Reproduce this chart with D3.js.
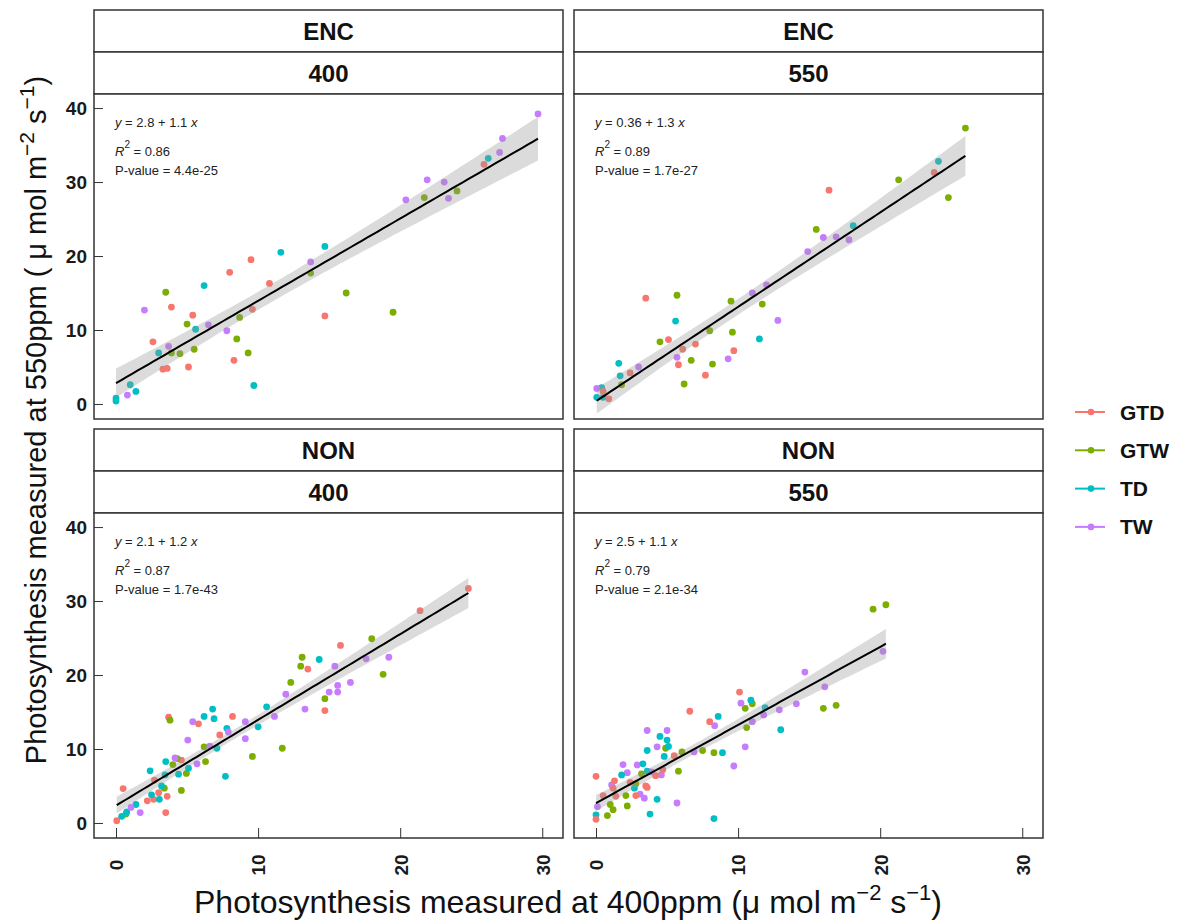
<!DOCTYPE html>
<html>
<head>
<meta charset="utf-8">
<script src="https://cdn.jsdelivr.net/npm/d3@7"></script>
<style>
  body { margin: 0; background: #fff; }
  text { font-family: "Liberation Sans", Arial, sans-serif; }
</style>
</head>
<body>
<div id="chart"></div>
<script>
// groups + colours (ggplot default hue palette)
var groups = ["GTD", "GTW", "TD", "TW"];
var colors = ["#F8766D", "#7CAE00", "#00BFC4", "#C77CFF"];

// facet labels
var treatments = ["ENC", "ENC", "NON", "NON"];
var co2Levels = ["400", "550", "400", "550"];

// fit annotations as printed in the picture
var eqLabels = [["2.8", "1.1"], ["0.36", "1.3"], ["2.1", "1.2"], ["2.5", "1.1"]];
var r2Labels = ["0.86", "0.89", "0.87", "0.79"];
var pLabels = ["4.4e-25", "1.7e-27", "1.7e-43", "2.1e-34"];

var xTicks = [0, 10, 20, 30];
var yTicks = [0, 10, 20, 30, 40];

// points: [x (400ppm), y (550ppm), group]
var enc400 = [
  [29.7,39.2,"TW"],[27.2,35.9,"TW"],[27.0,34.0,"TW"],[21.9,30.3,"TW"],[23.1,30.0,"TW"],[20.4,27.6,"TW"],[23.4,27.8,"TW"],
  [13.7,19.2,"TW"],[2.0,12.7,"TW"],[6.5,10.7,"TW"],[7.8,9.9,"TW"],[3.7,7.8,"TW"],[0.8,1.2,"TW"],
  [26.2,33.2,"TD"],[14.7,21.3,"TD"],[11.6,20.5,"TD"],[6.2,16.0,"TD"],[5.6,10.1,"TD"],[3.0,6.9,"TD"],[9.7,2.5,"TD"],
  [1.0,2.6,"TD"],[1.4,1.7,"TD"],[0.0,0.8,"TD"],[0.0,0.4,"TD"],
  [21.7,27.9,"GTW"],[24.0,28.8,"GTW"],[13.7,17.7,"GTW"],[16.2,15.0,"GTW"],[3.5,15.1,"GTW"],[19.5,12.4,"GTW"],[8.7,11.7,"GTW"],
  [5.0,10.8,"GTW"],[8.5,8.8,"GTW"],[3.9,6.9,"GTW"],[4.5,6.8,"GTW"],[5.5,7.4,"GTW"],[9.3,6.9,"GTW"],
  [25.9,32.4,"GTD"],[9.5,19.5,"GTD"],[8.0,17.8,"GTD"],[10.8,16.3,"GTD"],[3.9,13.1,"GTD"],[14.7,11.9,"GTD"],[9.6,12.8,"GTD"],
  [5.4,12.0,"GTD"],[2.6,8.4,"GTD"],[8.3,5.9,"GTD"],[5.1,5.0,"GTD"],[3.3,4.7,"GTD"],[3.6,4.8,"GTD"]
];
var enc550 = [
  [26.0,37.3,"GTW"],[21.3,30.3,"GTW"],[24.8,27.9,"GTW"],[15.5,23.6,"GTW"],[5.7,14.7,"GTW"],[9.5,13.9,"GTW"],[11.7,13.5,"GTW"],
  [8.0,9.9,"GTW"],[9.6,9.7,"GTW"],[4.5,8.4,"GTW"],[6.7,5.9,"GTW"],[8.2,5.4,"GTW"],[6.2,2.7,"GTW"],[1.8,2.6,"GTW"],
  [24.1,32.8,"TD"],[18.1,24.1,"TD"],[5.6,11.2,"TD"],[11.5,8.8,"TD"],[1.6,5.5,"TD"],[1.7,3.8,"TD"],[0.4,2.2,"TD"],
  [0.05,0.9,"TD"],[0.5,0.9,"TD"],
  [23.8,31.3,"GTD"],[16.4,28.9,"GTD"],[3.5,14.3,"GTD"],[5.1,8.7,"GTD"],[7.0,8.1,"GTD"],[9.7,7.2,"GTD"],[6.1,7.4,"GTD"],
  [5.8,5.3,"GTD"],[7.7,3.9,"GTD"],[2.4,4.2,"GTD"],[0.5,1.7,"GTD"],[0.9,0.7,"GTD"],
  [17.8,22.2,"TW"],[16.0,22.5,"TW"],[16.9,22.6,"TW"],[14.9,20.6,"TW"],[12.8,11.3,"TW"],[5.7,6.3,"TW"],[9.3,6.1,"TW"],
  [3.0,5.0,"TW"],[0.05,2.1,"TW"],[11.0,15.0,"TW"],[12.0,16.1,"TW"]
];
var non400 = [
  [24.8,31.7,"GTD"],[21.4,28.7,"GTD"],[15.8,24.0,"GTD"],[13.5,20.8,"GTD"],[14.7,15.2,"GTD"],[8.2,14.4,"GTD"],[5.8,13.4,"GTD"],
  [3.7,14.3,"GTD"],[7.3,11.9,"GTD"],[4.6,8.5,"GTD"],[2.7,5.8,"GTD"],[0.5,4.65,"GTD"],[3.0,4.1,"GTD"],[3.6,3.6,"GTD"],
  [2.2,3.0,"GTD"],[2.65,3.2,"GTD"],[3.5,1.4,"GTD"],[0.05,0.3,"GTD"],
  [18.0,24.9,"GTW"],[13.1,22.4,"GTW"],[13.0,21.2,"GTW"],[18.8,20.1,"GTW"],[12.3,19.0,"GTW"],[14.7,16.8,"GTW"],[3.8,13.9,"GTW"],
  [6.2,10.3,"GTW"],[11.7,10.1,"GTW"],[9.6,9.0,"GTW"],[6.3,8.3,"GTW"],[4.95,6.7,"GTW"],[4.3,8.7,"GTW"],[4.0,7.9,"GTW"],
  [4.6,4.4,"GTW"],[3.4,4.7,"GTW"],[0.7,1.2,"GTW"],
  [14.3,22.1,"TD"],[10.6,15.7,"TD"],[10.0,13.0,"TD"],[6.8,15.4,"TD"],[6.9,14.1,"TD"],[6.2,14.4,"TD"],[7.8,12.8,"TD"],
  [7.1,10.1,"TD"],[5.1,7.4,"TD"],[3.5,8.3,"TD"],[4.4,6.6,"TD"],[3.45,6.5,"TD"],[7.7,6.3,"TD"],[2.4,7.05,"TD"],
  [3.2,5.0,"TD"],[2.5,3.8,"TD"],[3.05,3.2,"TD"],[1.4,2.5,"TD"],[0.75,1.5,"TD"],[0.4,0.9,"TD"],
  [19.2,22.4,"TW"],[15.4,21.2,"TW"],[17.6,22.2,"TW"],[15.6,18.6,"TW"],[16.5,19.0,"TW"],[15.0,17.7,"TW"],[15.6,17.7,"TW"],
  [11.95,17.4,"TW"],[13.3,15.4,"TW"],[11.15,14.4,"TW"],[9.1,13.7,"TW"],[9.1,11.4,"TW"],[5.4,13.7,"TW"],[7.9,12.3,"TW"],
  [5.05,11.2,"TW"],[6.6,10.4,"TW"],[5.7,8.0,"TW"],[4.15,8.8,"TW"],[1.7,1.4,"TW"],[1.05,2.1,"TW"]
];
var non550 = [
  [20.4,29.5,"GTW"],[19.5,28.9,"GTW"],[16.0,15.5,"GTW"],[16.9,15.9,"GTW"],[11.0,16.1,"GTW"],[10.5,15.5,"GTW"],[10.6,12.9,"GTW"],
  [8.3,9.5,"GTW"],[7.5,9.8,"GTW"],[6.05,9.6,"GTW"],[4.9,10.1,"GTW"],[5.8,7.0,"GTW"],[3.2,6.65,"GTW"],[2.8,5.3,"GTW"],
  [2.1,3.7,"GTW"],[1.0,2.5,"GTW"],[1.2,1.8,"GTW"],[2.2,2.3,"GTW"],[0.8,1.0,"GTW"],
  [20.2,23.2,"TW"],[14.7,20.4,"TW"],[16.1,18.4,"TW"],[14.1,16.1,"TW"],[10.2,16.2,"TW"],[12.9,15.3,"TW"],[11.8,14.6,"TW"],
  [11.0,13.7,"TW"],[8.35,13.15,"TW"],[10.5,10.3,"TW"],[6.9,9.6,"TW"],[9.7,7.7,"TW"],[3.6,12.5,"TW"],[5.0,12.5,"TW"],
  [4.3,10.3,"TW"],[1.9,7.9,"TW"],[2.9,7.85,"TW"],[2.2,6.8,"TW"],[3.9,6.9,"TW"],[4.6,6.5,"TW"],[1.1,5.15,"TW"],
  [3.1,3.9,"TW"],[3.4,3.35,"TW"],[5.7,2.7,"TW"],[0.1,2.2,"TW"],
  [10.9,16.6,"TD"],[11.9,15.6,"TD"],[13.0,12.6,"TD"],[8.6,14.4,"TD"],[8.9,9.5,"TD"],[8.3,0.6,"TD"],[4.5,11.7,"TD"],
  [5.0,11.2,"TD"],[5.1,10.35,"TD"],[3.6,9.8,"TD"],[4.8,9.0,"TD"],[3.3,8.0,"TD"],[1.8,6.5,"TD"],[3.6,7.0,"TD"],
  [2.7,4.7,"TD"],[4.3,3.2,"TD"],[3.8,1.2,"TD"],[0.0,1.1,"TD"],
  [10.1,17.7,"GTD"],[6.6,15.1,"GTD"],[8.0,13.7,"GTD"],[5.5,9.1,"GTD"],[4.2,6.4,"GTD"],[4.7,7.2,"GTD"],[0.0,6.3,"GTD"],
  [1.3,5.7,"GTD"],[1.2,4.7,"GTD"],[2.4,5.5,"GTD"],[3.5,5.0,"GTD"],[3.6,4.8,"GTD"],[0.5,3.7,"GTD"],[1.4,3.6,"GTD"],
  [2.8,3.7,"GTD"],[0.0,0.5,"GTD"]
];
var panelData = [enc400, enc550, non400, non550];

// layout
var width = 1189, height = 924;
var colX = [94, 574], rowY = [10, 429];
var panelW = 469, stripH = 42, plotH = 325;

var x = d3.scaleLinear().domain([-1.55, 31.46]).range([0, panelW]);
var y = d3.scaleLinear().domain([-2.03, 41.9]).range([plotH, 0]);
var color = d3.scaleOrdinal().domain(groups).range(colors);

var svg = d3.select("#chart").append("svg")
  .attr("width", width)
  .attr("height", height);

// linear model + 95% band like geom_smooth(method="lm")
function lmFit(pts) {
  var n = pts.length;
  var mx = d3.mean(pts, function(d) { return d[0]; });
  var my = d3.mean(pts, function(d) { return d[1]; });
  var sxx = d3.sum(pts, function(d) { return (d[0] - mx) * (d[0] - mx); });
  var sxy = d3.sum(pts, function(d) { return (d[0] - mx) * (d[1] - my); });
  var b = sxy / sxx, a = my - b * mx;
  var sse = d3.sum(pts, function(d) { var r = d[1] - a - b * d[0]; return r * r; });
  var s = Math.sqrt(sse / (n - 2));
  var df = n - 2;
  var t = 1.959964 + 2.37 / df + 2.82 / (df * df);
  var ext = d3.extent(pts, function(d) { return d[0]; });
  var line = d3.range(80).map(function(i) {
    var xv = ext[0] + (ext[1] - ext[0]) * i / 79;
    var fit = a + b * xv;
    var se = s * Math.sqrt(1 / n + (xv - mx) * (xv - mx) / sxx);
    return { x: xv, y: fit, lo: fit - t * se, hi: fit + t * se };
  });
  return line;
}

panelData.forEach(function(pts, i) {
  var col = i % 2, row = Math.floor(i / 2);
  var g = svg.append("g")
    .attr("transform", "translate(" + colX[col] + "," + rowY[row] + ")");

  // strips
  [treatments[i], co2Levels[i]].forEach(function(lab, k) {
    g.append("rect")
      .attr("x", 0).attr("y", k * stripH)
      .attr("width", panelW).attr("height", stripH)
      .attr("fill", "#fff").attr("stroke", "#333").attr("stroke-width", 1.5);
    g.append("text")
      .attr("x", panelW / 2).attr("y", k * stripH + stripH / 2)
      .attr("text-anchor", "middle")
      .attr("dy", "0.36em")
      .style("font-size", "24px")
      .style("font-weight", "bold")
      .style("fill", "#111")
      .text(lab);
  });

  var p = g.append("g").attr("transform", "translate(0," + (2 * stripH) + ")");

  p.append("rect")
    .attr("width", panelW).attr("height", plotH)
    .attr("fill", "#fff");

  // points
  p.selectAll(".pt")
    .data(pts)
    .enter().append("circle")
    .attr("class", "pt")
    .attr("cx", function(d) { return x(d[0]); })
    .attr("cy", function(d) { return y(d[1]); })
    .attr("r", 3.4)
    .attr("fill", function(d) { return color(d[2]); });

  // smooth
  var fit = lmFit(pts);
  p.append("path")
    .datum(fit)
    .attr("fill", "#999999")
    .attr("fill-opacity", 0.35)
    .attr("d", d3.area()
      .x(function(d) { return x(d.x); })
      .y0(function(d) { return y(d.lo); })
      .y1(function(d) { return y(d.hi); }));
  p.append("path")
    .datum(fit)
    .attr("fill", "none")
    .attr("stroke", "#000")
    .attr("stroke-width", 2)
    .attr("d", d3.line()
      .x(function(d) { return x(d.x); })
      .y(function(d) { return y(d.y); }));

  // annotation
  var ann = p.append("g").style("font-size", "13px").style("fill", "#222");
  var t1 = ann.append("text").attr("x", 21).attr("y", 33);
  t1.append("tspan").style("font-style", "italic").text("y");
  t1.append("tspan").text(" = " + eqLabels[i][0] + " + " + eqLabels[i][1] + " ");
  t1.append("tspan").style("font-style", "italic").text("x");
  var t2 = ann.append("text").attr("x", 21).attr("y", 62);
  t2.append("tspan").style("font-style", "italic").text("R");
  t2.append("tspan").attr("dy", -8).style("font-size", "10px").text("2");
  t2.append("tspan").attr("dy", 8).text(" = " + r2Labels[i]);
  ann.append("text").attr("x", 21).attr("y", 81).text("P-value = " + pLabels[i]);

  // axes, ticks pointing inward
  if (col === 0) {
    p.append("g")
      .call(d3.axisLeft(y).tickValues(yTicks).tickSize(-9).tickPadding(7))
      .call(function(a) {
        a.select(".domain").remove();
        a.selectAll("line").attr("stroke", "#333");
        a.selectAll("text").style("font-size", "19px").style("font-weight", "bold")
          .style("font-family", "'Liberation Sans', Arial, sans-serif").attr("fill", "#1a1a1a");
      });
  }
  if (row === 1) {
    p.append("g")
      .attr("transform", "translate(0," + plotH + ")")
      .call(d3.axisBottom(x).tickValues(xTicks).tickSize(-10))
      .call(function(a) {
        a.select(".domain").remove();
        a.selectAll("line").attr("stroke", "#333");
        a.selectAll("text")
          .attr("y", 0).attr("dy", "0.36em")
          .attr("transform", "translate(0,27) rotate(-90)")
          .attr("text-anchor", "middle")
          .style("font-size", "19px").style("font-weight", "bold")
          .style("font-family", "'Liberation Sans', Arial, sans-serif").attr("fill", "#1a1a1a");
      });
  }

  p.append("rect")
    .attr("width", panelW).attr("height", plotH)
    .attr("fill", "none").attr("stroke", "#333").attr("stroke-width", 1.5);
});

// axis titles
var xt = svg.append("text")
  .attr("x", 568).attr("y", 913)
  .attr("text-anchor", "middle")
  .style("font-size", "32px").style("fill", "#111");
xt.append("tspan").text("Photosynthesis measured at 400ppm (\u03bc mol m");
xt.append("tspan").attr("dy", -13).style("font-size", "22px").text("\u22122");
xt.append("tspan").attr("dy", 13).text(" s");
xt.append("tspan").attr("dy", -13).style("font-size", "22px").text("\u22121");
xt.append("tspan").attr("dy", 13).text(")");

var yt = svg.append("text")
  .attr("transform", "translate(46,420) rotate(-90)")
  .attr("text-anchor", "middle")
  .style("font-size", "29px").style("fill", "#111");
yt.append("tspan").text("Photosynthesis measured at 550ppm ( \u03bc mol m");
yt.append("tspan").attr("dy", -12).style("font-size", "21px").text("\u22122");
yt.append("tspan").attr("dy", 12).text(" s");
yt.append("tspan").attr("dy", -12).style("font-size", "21px").text("\u22121");
yt.append("tspan").attr("dy", 12).text(")");

// legend
var legend = svg.append("g").attr("transform", "translate(1075,412)");
var items = legend.selectAll(".key")
  .data(groups)
  .enter().append("g")
  .attr("class", "key")
  .attr("transform", function(d, i) { return "translate(0," + (i * 38.3) + ")"; });
items.append("line")
  .attr("x1", 0).attr("x2", 30)
  .attr("stroke", function(d) { return color(d); })
  .attr("stroke-width", 2);
items.append("circle")
  .attr("cx", 16).attr("r", 3.3)
  .attr("fill", function(d) { return color(d); });
items.append("text")
  .attr("x", 45).attr("dy", "0.36em")
  .style("font-size", "21px").style("font-weight", "bold").style("fill", "#111")
  .text(function(d) { return d; });
</script>
</body>
</html>
